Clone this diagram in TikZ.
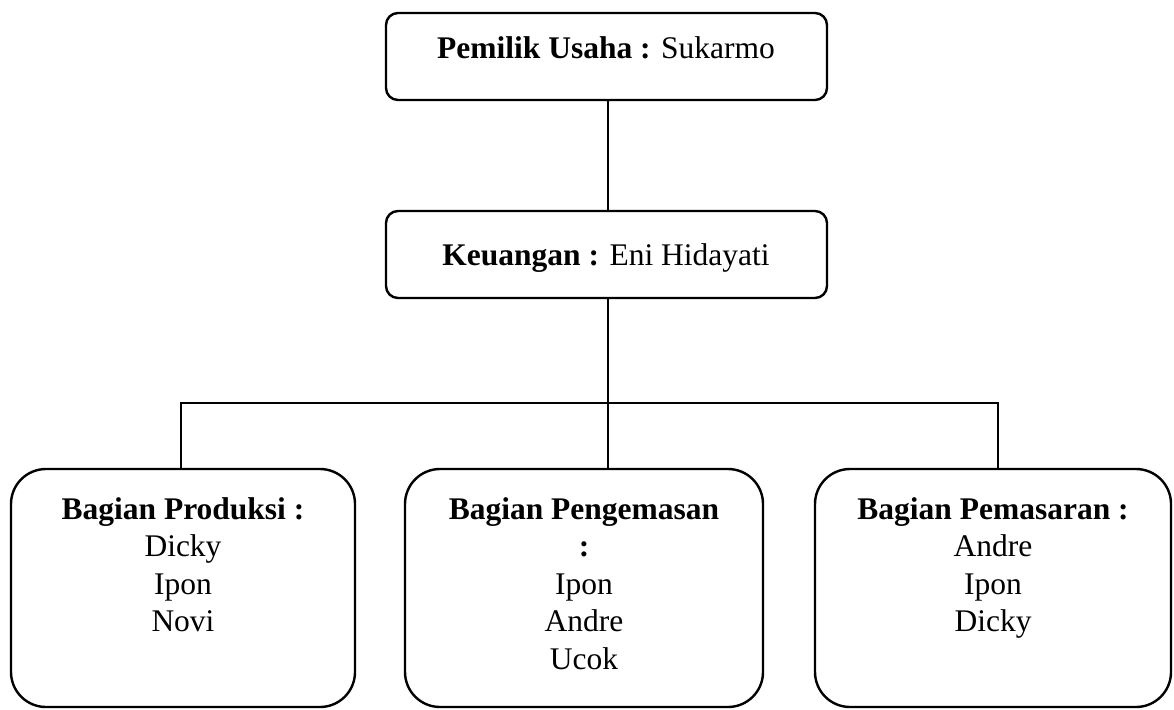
\documentclass[tikz,border=0pt]{standalone}
\usepackage{fontspec}
\setmainfont{Liberation Serif}
\begin{document}
\begin{tikzpicture}[x=1pt,y=-1pt,
  box/.style={draw,line width=2.4pt,inner sep=0pt,rounded corners=#1},
  box/.default=12pt,
  txt/.style={inner sep=0pt,align=center,font=\fontsize{31.5}{37.5}\selectfont},
  wire/.style={line width=1.9pt}]
\useasboundingbox (0,0) rectangle (1174,709);
% boxes
\node[box, minimum width=441pt, minimum height=87pt] (owner) at (606.5,56.5) {};
\node[box, minimum width=441pt, minimum height=87pt] (fin) at (606.5,254.5) {};
\node[box=35pt, minimum width=344pt, minimum height=238pt] (prod) at (183,588) {};
\node[box=35pt, minimum width=358pt, minimum height=238pt] (peng) at (584,588) {};
\node[box=35pt, minimum width=356pt, minimum height=238pt] (pem) at (993,588) {};
% texts
\node[txt, anchor=base] (ownerT) at (606,59) {\textbf{Pemilik Usaha :} Sukarmo};
\node[txt, anchor=base] (finT) at (606,265) {\textbf{Keuangan :} Eni Hidayati};
\node[txt, anchor=north] (prodT) at (183,497) {\textbf{Bagian Produksi :}\\Dicky\\Ipon\\Novi};
\node[txt, anchor=north] (pengT) at (584,497) {\textbf{Bagian Pengemasan}\\\textbf{:}\\Ipon\\Andre\\Ucok};
\node[txt, anchor=north] (pemT) at (993,497) {\textbf{Bagian Pemasaran :}\\Andre\\Ipon\\Dicky};
% connectors
\coordinate (vx) at (608,0);
\coordinate (hl) at (181,403);
\coordinate (hr) at (998,403);
\draw[wire] (owner.south -| vx) -- (fin.north -| vx);
\draw[wire] (fin.south -| vx) -- (peng.north -| vx);
\draw[wire] (prod.north -| hl) -- (hl) -- (hr) -- (pem.north -| hr);
\end{tikzpicture}
\end{document}
